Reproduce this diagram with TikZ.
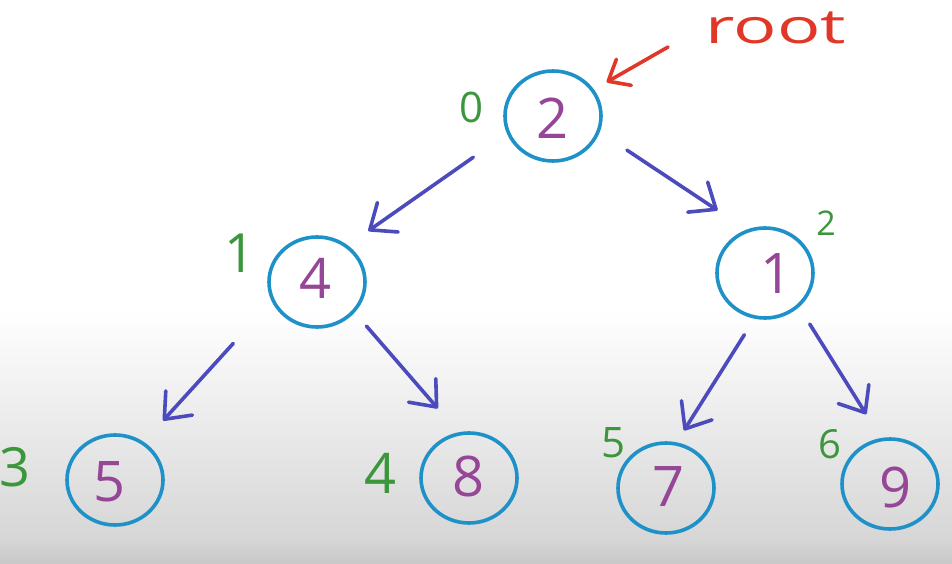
\documentclass[tikz,border=0pt]{standalone}
\usepackage{fontspec}
\setmainfont{Open Sans}
\usetikzlibrary{arrows.meta,shapes.geometric}
\definecolor{ringblue}{RGB}{30,145,200}
\definecolor{arrowblue}{RGB}{75,75,190}
\definecolor{valpurple}{RGB}{150,70,150}
\definecolor{idxgreen}{RGB}{60,150,60}
\definecolor{rootred}{RGB}{225,55,40}
\definecolor{bgA}{RGB}{214,214,214}
\definecolor{bgB}{RGB}{200,200,200}
\begin{document}
\begin{tikzpicture}[x=1pt,y=-1pt,
  nd/.style={ellipse,draw=ringblue,line width=3.6pt,minimum width=96pt,minimum height=90pt,inner sep=0pt},
  val/.style={text=valpurple,font=\fontsize{56}{56}\selectfont,inner sep=0pt},
  idx/.style={text=idxgreen,inner sep=0pt},
  arr/.style={draw=arrowblue,line width=3.6pt,line cap=round,
    -{Straight Barb[length=22pt,width=36pt,line cap=round,line join=round]}},
  redarr/.style={draw=rootred,line width=3.6pt,line cap=round,
    -{Straight Barb[length=18pt,width=30pt,line cap=round,line join=round]}}]
\useasboundingbox (0,0) rectangle (952,564);
\fill[white] (0,0) rectangle (952,312);
\shade[top color=white,bottom color=bgA] (0,310) rectangle (952,540);
\shade[top color=bgA,bottom color=bgB] (0,539.5) rectangle (952,564);

% tree nodes
\node[nd] (root) at (553,116) {};
\node[nd] (n4) at (317,282) {};
\node[nd] (n1) at (765,273) {};
\node[nd] (n5) at (115,480) {};
\node[nd] (n8) at (469,478) {};
\node[nd] (n7) at (666,488) {};
\node[nd] (n9) at (890,484) {};

% values
\node[val] (v2) at (553,118) {2};
\node[val] (v4) at (316,278) {4};
\node[val] (v1) at (776,274) {1};
\node[val] (v5) at (110,482) {5};
\node[val] (v8) at (469,476) {8};
\node[val] (v7) at (668,487) {7};
\node[val] (v9) at (895,487) {9};

% indices
\node[idx,font=\fontsize{42}{42}\selectfont] (i0) at (471,107) {0};
\node[idx,font=\fontsize{54}{54}\selectfont] (i1) at (240,253) {1};
\node[idx,font=\fontsize{34}{34}\selectfont] (i2) at (826,223) {2};
\node[idx,font=\fontsize{54}{54}\selectfont] (i3) at (15,467) {3};
\node[idx,font=\fontsize{56}{56}\selectfont] (i4) at (381,473) {4};
\node[idx,font=\fontsize{42}{42}\selectfont] (i5) at (613,443) {5};
\node[idx,font=\fontsize{40}{40}\selectfont] (i6) at (830,444) {6};

% root label
\node[text=rootred,font=\fontsize{48}{48}\selectfont,inner sep=0pt,xscale=1.5] (rootlbl) at (776,28) {root};
\coordinate (rtail) at (668,47);
\draw[redarr,shorten >=14.6pt] (rtail) -- (root.33.3);

% edges
\draw[arr,shorten <=41pt,shorten >=25pt] (root.201.7) -- (n4.50.5);
\draw[arr,shorten <=32.6pt,shorten >=34.8pt] (root.-19.5) -- (n1.113.4);
\draw[arr,shorten <=57pt,shorten >=28.7pt] (n4.203.8) -- (n5.53.3);
\draw[arr,shorten <=17.9pt,shorten >=31.6pt] (n4.-39) -- (n8.103.3);
\draw[arr,shorten <=18.9pt,shorten >=14pt] (n1.257.2) -- (n7.77.8);
\draw[arr,shorten <=20pt,shorten >=28pt] (n1.-45.4) -- (n9.101.9);
\end{tikzpicture}
\end{document}
